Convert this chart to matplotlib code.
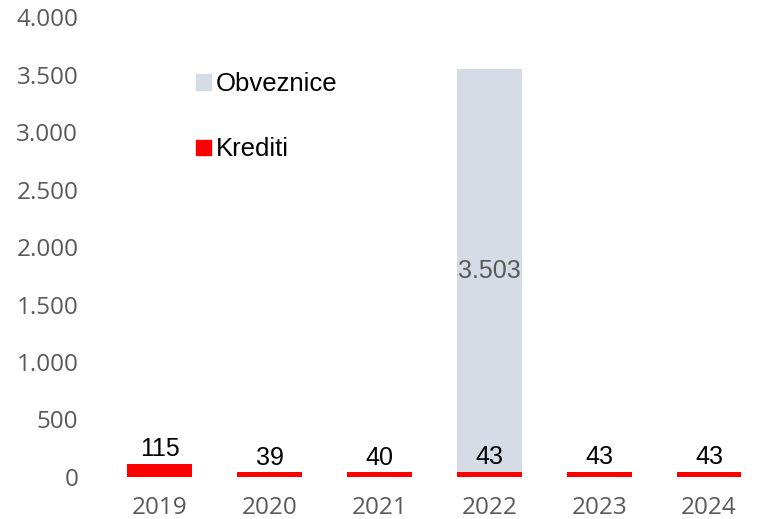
import matplotlib
matplotlib.use("Agg")
import matplotlib.pyplot as plt
from matplotlib.patches import Patch
from matplotlib.ticker import FuncFormatter, MultipleLocator
import numpy as np

years = ["2019", "2020", "2021", "2022", "2023", "2024"]
krediti = [115, 39, 40, 43, 43, 43]
obveznice = [0, 0, 0, 3503, 0, 0]

red = "#FF0000"
grey = "#D6DCE5"
tick_col = "#595959"

fig = plt.figure(figsize=(7.64, 5.19), dpi=100)
ax = fig.add_axes([0.137, 0.081, 0.863, 0.886])

x = np.arange(len(years))
w = 0.59
ax.bar(x, krediti, width=w, color=red, zorder=3)
ax.bar(x, obveznice, width=w, bottom=krediti, color=grey, zorder=2)

# credit values sit just above the red bars
for xi, v in zip(x, krediti):
    ax.annotate(str(v), (xi, v), xytext=(0, 2), textcoords="offset points",
                ha="center", va="bottom", fontsize=18, color="black",
                family="Liberation Sans")

# bond value in the middle of its segment
for xi, b, k in zip(x, obveznice, krediti):
    if b:
        ax.text(xi, k + b / 2, f"{b:,}".replace(",", "."), ha="center",
                va="center", fontsize=18, color=tick_col, family="Liberation Sans")

ax.set_xlim(-0.5, len(years) - 0.5)
ax.set_ylim(0, 4000)
ax.yaxis.set_major_locator(MultipleLocator(500))
ax.yaxis.set_major_formatter(FuncFormatter(lambda v, p: f"{int(v):,}".replace(",", ".")))
ax.set_xticks(x)
ax.set_xticklabels(years)

for s in ax.spines.values():
    s.set_visible(False)
ax.tick_params(axis="both", length=0, labelsize=17.5, colors=tick_col)
ax.tick_params(axis="y", pad=19)
ax.tick_params(axis="x", pad=13.5)
for lab in ax.get_xticklabels() + ax.get_yticklabels():
    lab.set_family("Open Sans")

handles = [Patch(color=grey, label="Obveznice"), Patch(color=red, label="Krediti")]
leg = ax.legend(handles=handles, loc="upper left", bbox_to_anchor=(0.139, 0.88),
                frameon=False, handlelength=0.56, handleheight=0.56,
                handletextpad=0.2, labelspacing=1.6, borderpad=0, borderaxespad=0,
                prop={"family": "Liberation Sans", "size": 18.5})

fig.savefig("out.png")
